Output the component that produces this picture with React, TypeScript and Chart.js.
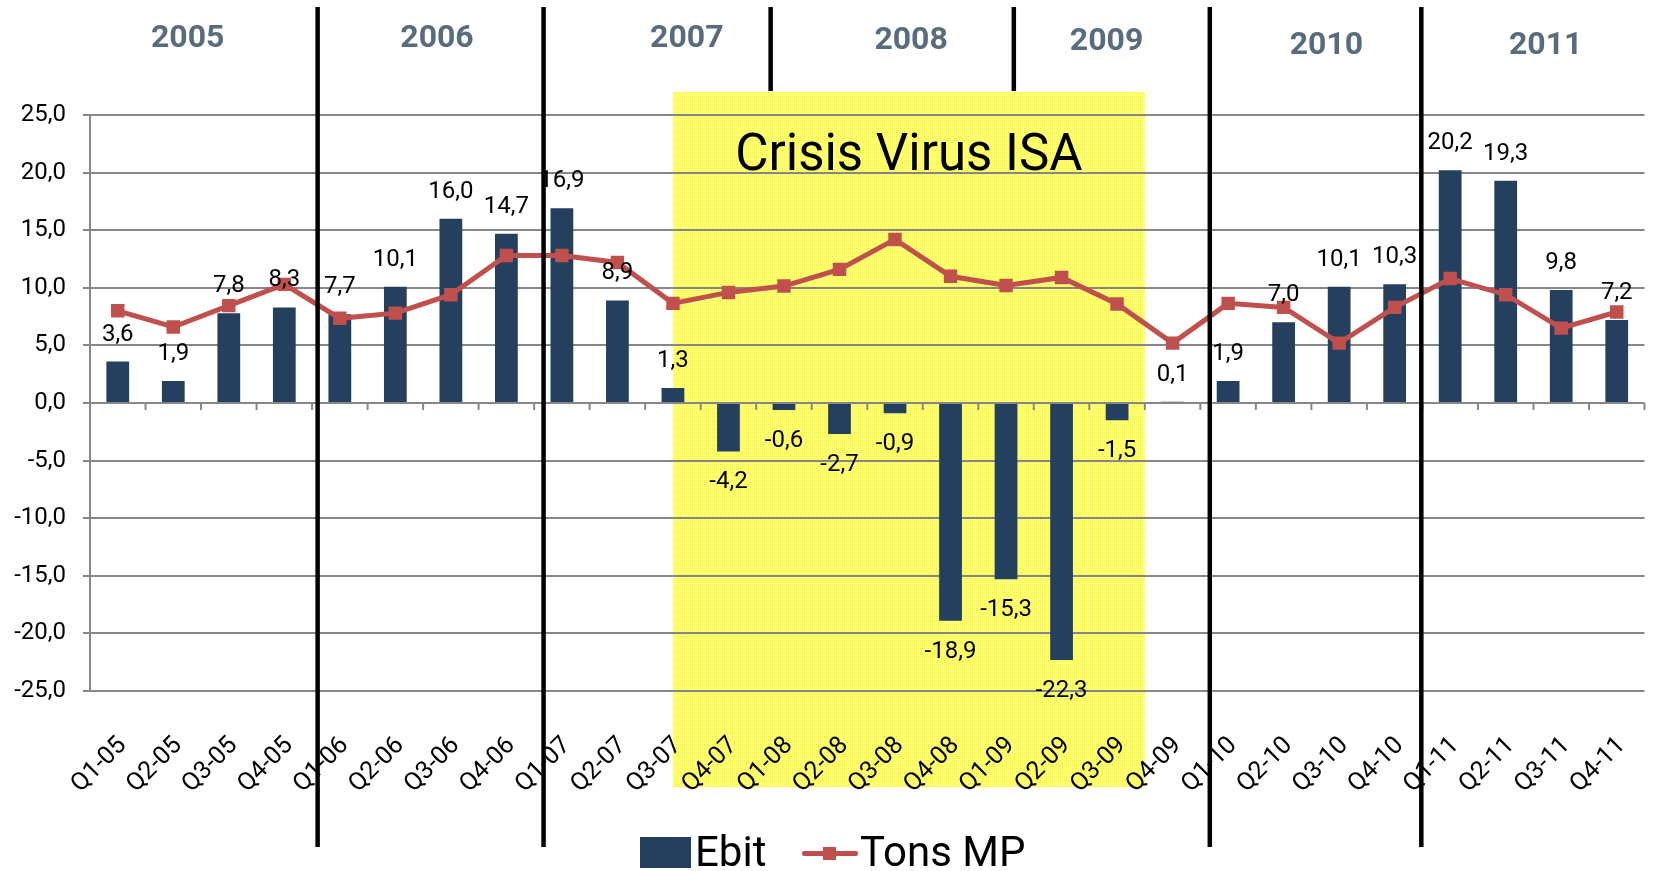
import React, { useEffect, useRef } from 'react';
import { Chart, registerables } from 'chart.js';

Chart.register(...registerables);

// ---------------- data ----------------
const categories = [
  'Q1-05', 'Q2-05', 'Q3-05', 'Q4-05',
  'Q1-06', 'Q2-06', 'Q3-06', 'Q4-06',
  'Q1-07', 'Q2-07', 'Q3-07', 'Q4-07',
  'Q1-08', 'Q2-08', 'Q3-08', 'Q4-08',
  'Q1-09', 'Q2-09', 'Q3-09', 'Q4-09',
  'Q1-10', 'Q2-10', 'Q3-10', 'Q4-10',
  'Q1-11', 'Q2-11', 'Q3-11', 'Q4-11',
];

const ebit = [
  3.6, 1.9, 7.8, 8.3,
  7.7, 10.1, 16.0, 14.7,
  16.9, 8.9, 1.3, -4.2,
  -0.6, -2.7, -0.9, -18.9,
  -15.3, -22.3, -1.5, 0.1,
  1.9, 7.0, 10.1, 10.3,
  20.2, 19.3, 9.8, 7.2,
];

const tonsMP = [
  8.0, 6.6, 8.45, 10.3,
  7.35, 7.8, 9.4, 12.8,
  12.8, 12.2, 8.65, 9.6,
  10.15, 11.6, 14.2, 11.0,
  10.2, 10.9, 8.6, 5.2,
  8.65, 8.3, 5.2, 8.3,
  10.8, 9.4, 6.5, 7.9,
];

const years = ['2005', '2006', '2007', '2008', '2009', '2010', '2011'];
const yTickMin = -25;
const yTickMax = 25;
const yTickStep = 5;
const crisisLabel = 'Crisis Virus ISA';
const seriesNames = ['Ebit', 'Tons MP'];

// ---------------- annotation layout (category-index units on x) ----------------
const yearLabelX = [1.26, 5.75, 10.25, 14.29, 17.81, 21.77, 25.72];
const yearLabelY = [39, 39, 39, 41, 42, 46, 46];
const separatorX = [3.6, 7.67, 11.76, 16.14, 19.67, 23.48];
const separatorLong = [true, true, false, false, true, true];
const crisisFrom = 10;
const crisisTo = 18.5;
const crisisTextX = 14.25;
const crisisTextYValue = 20.25;

const BAR_COLOR = '#253F5F';
const LINE_COLOR = '#C0504D';
const GRID_COLOR = '#878787';
const YEAR_COLOR = '#596C7D';
const FONT = 'Roboto';

const fmt = (v: number) => v.toFixed(1).replace('.', ',');

function makePattern(ctx: CanvasRenderingContext2D) {
  const tile = document.createElement('canvas');
  tile.width = 4;
  tile.height = 4;
  const t = tile.getContext('2d')!;
  t.fillStyle = '#FFFF5A';
  t.fillRect(0, 0, 4, 4);
  t.fillStyle = '#FFFFB8';
  t.fillRect(1, 1, 1, 1);
  t.fillRect(3, 3, 1, 1);
  t.fillStyle = '#FFFFA0';
  t.fillRect(1, 3, 1, 1);
  t.fillRect(3, 1, 1, 1);
  t.fillStyle = '#F6F235';
  t.fillRect(0, 0, 1, 1);
  t.fillRect(2, 2, 1, 1);
  return ctx.createPattern(tile, 'repeat');
}

const decorPlugin = {
  id: 'decor',
  beforeDraw(chart: any) {
    const { ctx, scales } = chart;
    const x = scales.x;
    const x0 = x.getPixelForValue(crisisFrom);
    const x1 = x.getPixelForValue(crisisTo);
    ctx.save();
    ctx.fillStyle = makePattern(ctx) || '#FFFF66';
    ctx.fillRect(x0, 92, x1 - x0, 787 - 92);
    ctx.restore();
  },
  afterDatasetsDraw(chart: any) {
    const { ctx, scales } = chart;
    const x = scales.x;
    const y = scales.y;
    const zeroY = y.getPixelForValue(0);
    // small tick marks below the zero line at category boundaries
    ctx.save();
    ctx.strokeStyle = GRID_COLOR;
    ctx.lineWidth = 2;
    for (let i = 0; i <= categories.length; i++) {
      const px = x.getPixelForValue(i - 0.5);
      ctx.beginPath();
      ctx.moveTo(px, zeroY);
      ctx.lineTo(px, zeroY + 7);
      ctx.stroke();
    }
    ctx.restore();

    // data labels on the Ebit bars
    const meta = chart.getDatasetMeta(1);
    ctx.save();
    ctx.font = `24px ${FONT}`;
    ctx.fillStyle = '#000';
    ctx.textAlign = 'center';
    ctx.textBaseline = 'middle';
    meta.data.forEach((el: any, i: number) => {
      const v = ebit[i];
      const ly = v >= 0 ? el.y - 27 : el.y + 31;
      ctx.fillText(fmt(v), el.x, ly);
    });
    ctx.restore();
  },
  afterDraw(chart: any) {
    const { ctx, scales } = chart;
    const x = scales.x;
    const y = scales.y;
    ctx.save();
    // Crisis text
    ctx.font = `51px ${FONT}`;
    ctx.fillStyle = '#000';
    ctx.textAlign = 'center';
    ctx.textBaseline = 'alphabetic';
    ctx.fillText(crisisLabel, x.getPixelForValue(crisisTextX), y.getPixelForValue(crisisTextYValue));

    // year separators
    ctx.strokeStyle = '#000';
    ctx.lineWidth = 4.5;
    separatorX.forEach((v, i) => {
      const px = x.getPixelForValue(v);
      ctx.beginPath();
      ctx.moveTo(px, 7);
      ctx.lineTo(px, separatorLong[i] ? 847 : 91);
      ctx.stroke();
    });

    // year labels
    ctx.font = `bold 32px ${FONT}`;
    ctx.fillStyle = YEAR_COLOR;
    ctx.textAlign = 'center';
    ctx.textBaseline = 'middle';
    years.forEach((t, i) => {
      ctx.fillText(t, x.getPixelForValue(yearLabelX[i]), yearLabelY[i]);
    });
    ctx.restore();
  },
};

export default function App() {
  const ref = useRef<HTMLCanvasElement | null>(null);

  useEffect(() => {
    if (!ref.current) return;
    const chart = new Chart(ref.current, {
      type: 'bar',
      data: {
        labels: categories,
        datasets: [
          {
            type: 'line',
            label: seriesNames[1],
            data: tonsMP,
            borderColor: LINE_COLOR,
            backgroundColor: LINE_COLOR,
            borderWidth: 5,
            pointStyle: 'rect',
            pointRadius: 9.5,
            pointBorderWidth: 0,
            pointBackgroundColor: LINE_COLOR,
            tension: 0,
            order: 0,
          } as any,
          {
            type: 'bar',
            label: seriesNames[0],
            data: ebit,
            backgroundColor: BAR_COLOR,
            barPercentage: 0.41,
            categoryPercentage: 1,
            order: 1,
          } as any,
        ],
      },
      options: {
        animation: false,
        responsive: true,
        maintainAspectRatio: false,
        layout: { padding: { top: 115, right: 9, bottom: 0, left: 0 } },
        plugins: {
          legend: { display: false },
          tooltip: { enabled: false },
        },
        scales: {
          x: {
            grid: { display: false, drawTicks: false },
            border: { display: false },
            ticks: {
              autoSkip: false,
              maxRotation: 45,
              minRotation: 45,
              padding: 40,
              labelOffset: 5,
              color: '#000',
              font: { family: FONT, size: 25 },
            },
            afterFit: (s: any) => {
              s.height = 180;
              s.paddingLeft = 0;
              s.paddingRight = 0;
            },
          },
          y: {
            min: yTickMin,
            max: yTickMax,
            grid: { color: GRID_COLOR, lineWidth: 2, tickLength: 7 },
            border: { color: GRID_COLOR, width: 2 },
            ticks: {
              stepSize: yTickStep,
              padding: 17,
              color: '#000',
              font: { family: FONT, size: 24 },
              callback: (v: any) => fmt(Number(v)),
            },
            afterFit: (s: any) => {
              s.width = 90;
            },
          },
        },
      },
      plugins: [decorPlugin],
    });
    return () => chart.destroy();
  }, []);

  const textStyle: React.CSSProperties = {
    position: 'absolute',
    top: 831,
    fontFamily: FONT,
    fontSize: 42,
    lineHeight: '42px',
    color: '#000',
    whiteSpace: 'nowrap',
  };

  return (
    <div
      style={{
        position: 'fixed',
        left: 0,
        top: 0,
        width: 1654,
        height: 871,
        background: '#fff',
        overflow: 'hidden',
      }}
    >
      <canvas ref={ref} />
      <div style={{ position: 'absolute', left: 640, top: 837, width: 51, height: 31, background: BAR_COLOR }} />
      <div style={{ ...textStyle, left: 695 }}>{seriesNames[0]}</div>
      <div style={{ position: 'absolute', left: 802, top: 851, width: 56, height: 5, borderRadius: 2, background: LINE_COLOR }} />
      <div style={{ position: 'absolute', left: 823, top: 847, width: 13, height: 13, background: LINE_COLOR }} />
      <div style={{ ...textStyle, left: 860 }}>{seriesNames[1]}</div>
    </div>
  );
}
